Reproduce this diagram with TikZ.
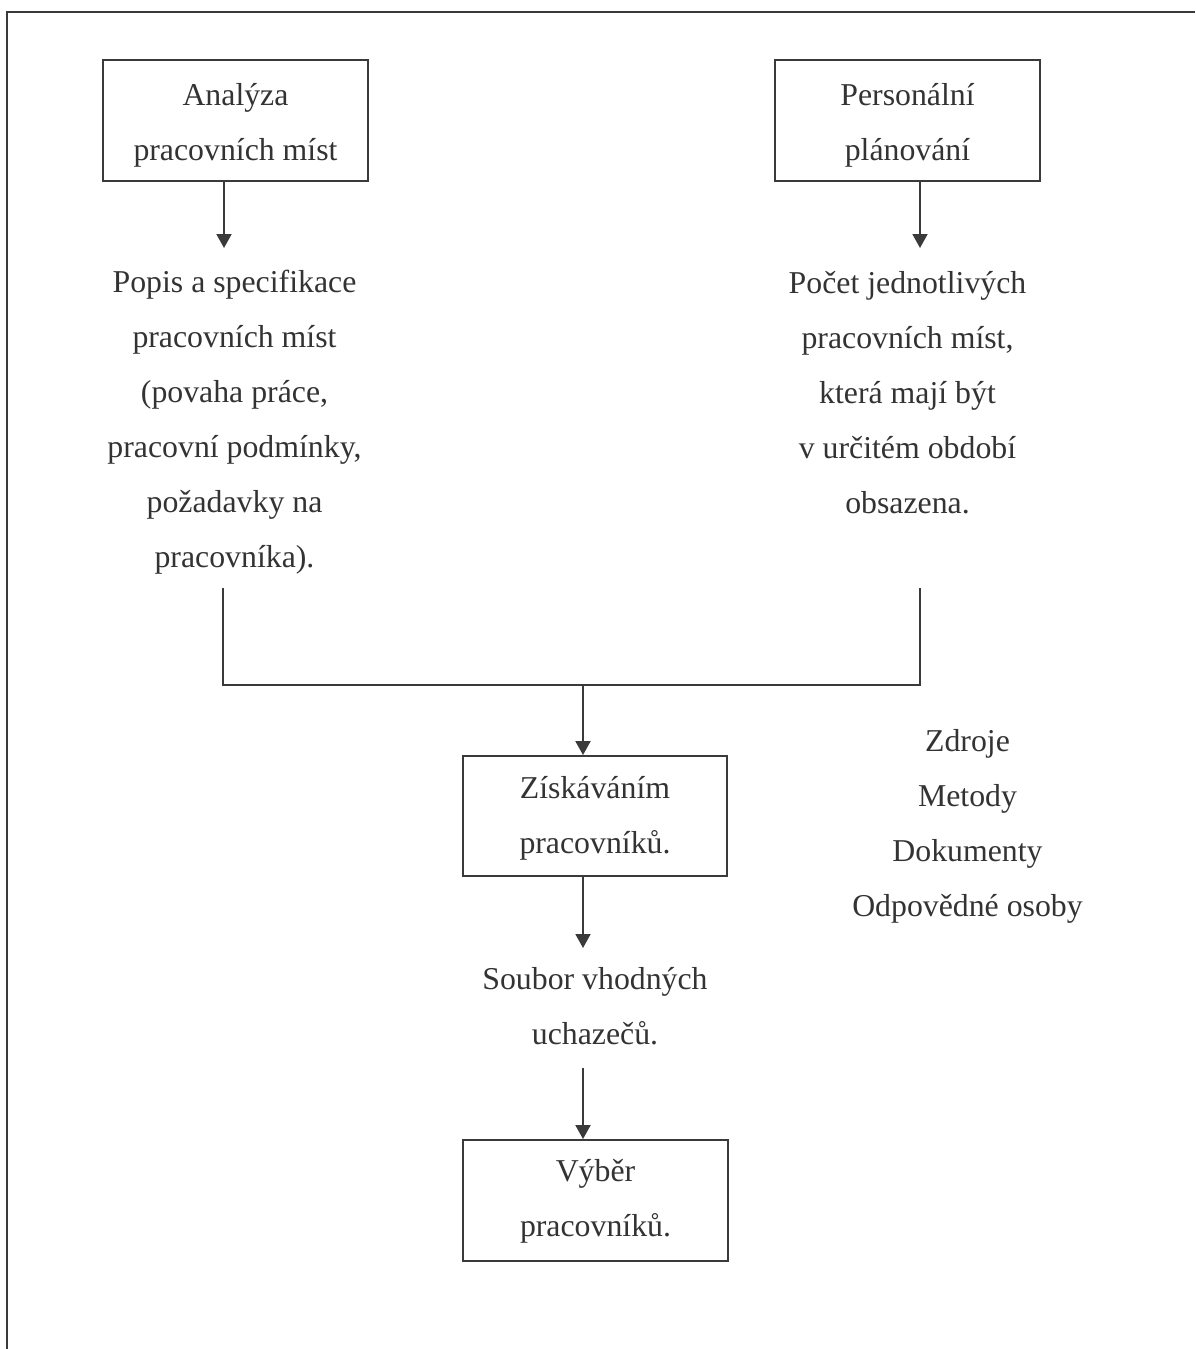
\documentclass[tikz,border=0pt]{standalone}
\usepackage{fontspec}
\setmainfont{Liberation Serif}
\usetikzlibrary{arrows.meta}
\definecolor{linegray}{HTML}{3A3A3A}
\definecolor{textgray}{HTML}{333333}
\newcommand\bodyfont{\fontsize{31.8}{55}\selectfont}
\begin{document}
\begin{tikzpicture}[x=1pt,y=-1pt,
  ink/.style={draw=linegray, line width=1.9pt},
  box/.style={ink, rectangle, minimum width=265pt, minimum height=121pt, inner sep=0pt},
  txt/.style={align=center, font=\bodyfont, text=textgray, inner sep=0pt},
  arr/.style={ink, -{Triangle[width=15pt,length=14pt]}},
]
\useasboundingbox (0,0) rectangle (1195,1349);

% open frame: top and left edges only
\coordinate (frameTR) at (1195,12);
\coordinate (frameTL) at (7,12);
\coordinate (frameBL) at (7,1349);
\draw[ink] (frameTR) -- (frameTL) -- (frameBL);

% boxes and their captions
\node[box] (analyza) at (235.5,120.5) {};
\node[txt] (analyzaText) at ([yshift=-5pt]analyza.center) {Analýza\\pracovních míst};
\node[box] (planovani) at (907.5,120.5) {};
\node[txt] (planovaniText) at ([yshift=-5pt]planovani.center) {Personální\\plánování};
\node[box, minimum width=264pt, minimum height=120pt] (ziskavani) at (595,816) {};
\node[txt] (ziskavaniText) at ([yshift=-2pt]ziskavani.center) {Získáváním\\pracovníků.};
\node[box] (vyber) at (595.5,1200.5) {};
\node[txt] (vyberText) at ([yshift=-1pt]vyber.center) {Výběr\\pracovníků.};

% free text
\node[txt] (popis) at (234.5,422.5) {Popis a specifikace\\pracovních míst\\(povaha práce,\\pracovní podmínky,\\požadavky na\\pracovníka).};
\node[txt] (pocet) at (907.5,393) {Počet jednotlivých\\pracovních míst,\\která mají být\\v určitém období\\obsazena.};
\node[txt] (zdroje) at (967.5,826.5) {Zdroje\\Metody\\Dokumenty\\Odpovědné osoby};
\node[txt] (soubor) at (595,1006.5) {Soubor vhodných\\uchazečů.};

% connector points
\coordinate (aTip) at (224,248);
\coordinate (pTip) at (920,248);
\coordinate (lTop) at (223,588);
\coordinate (rTop) at (920,588);
\coordinate (mL) at (223,685);
\coordinate (mR) at (920,685);
\coordinate (mC) at (583,685);
\coordinate (sTip) at (583,948);
\coordinate (sOut) at (583,1068);

% connectors
\draw[arr] (analyza.south -| aTip) -- (aTip);
\draw[arr] (planovani.south -| pTip) -- (pTip);
\draw[ink] (lTop) -- (mL) -- (mR) -- (rTop);
\draw[arr] (mC) -- (ziskavani.north -| mC);
\draw[arr] (ziskavani.south -| sTip) -- (sTip);
\draw[arr] (sOut) -- (vyber.north -| sOut);
\end{tikzpicture}
\end{document}
